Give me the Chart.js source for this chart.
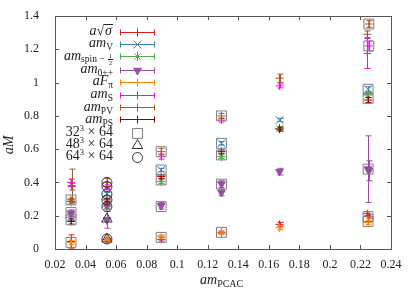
<!DOCTYPE html>
<html>
<head>
<meta charset="utf-8">
<script src="https://cdn.jsdelivr.net/npm/chart.js@4.4.0/dist/chart.umd.min.js"></script>
<style>
  html, body { margin: 0; padding: 0; background: #fff; }
  #wrap { position: relative; width: 415px; height: 292px; font-family: "Liberation Serif", "DejaVu Serif", serif; color: #222; }
  #wrap canvas { position: absolute; left: 0; top: 0; }
  .key { position: absolute; left: 0; width: 113px; text-align: right; font-size: 14px; line-height: 13px; height: 13px; white-space: nowrap; }
  .key sub { font-size: 9.5px; vertical-align: -2.5px; line-height: 0; font-style: normal; }
  .key sup { font-size: 8.5px; vertical-align: 5px; line-height: 0; }
  .fr { display: inline-block; position: relative; width: 5px; height: 0; margin-left: 1px; }
  .fr span { position: absolute; left: 0; width: 5px; font-size: 6px; line-height: 6px; text-align: center; }
  .fr .n { top: -9px; border-bottom: 0.7px solid #222; }
  .fr .d { top: -2px; }
  .ov { border-top: 1px solid #222; font-style: italic; padding: 0 1px; line-height: 12px; display: inline-block; }
  .ttl { position: absolute; font-size: 14px; white-space: nowrap; }
  .ttl sub { font-size: 10px; vertical-align: -3px; line-height: 0; }
</style>
</head>
<body>
<div id="wrap">
  <canvas id="chart" width="415" height="292"></canvas>
  <div id="keys"></div>
  <div class="ttl" style="left:0px;top:137px;transform:rotate(-90deg);"><i>aM</i></div>
  <div class="ttl" style="left:200px;top:272px;"><i>am</i><sub>PCAC</sub></div>
</div>
<script>
// each point: [am_PCAC, value, error]
const sqrtSigma = [[0.0305, 0.045, 0.04], [0.054, 0.058, 0.008], [0.0895, 0.058, 0.01], [0.129, 0.1, 0.008], [0.167, 0.148, 0.012], [0.2245, 0.212, 0.012], [0.2255, 0.195, 0.01]];
const mV = [[0.0305, 0.19, 0.02], [0.054, 0.33, 0.01], [0.0895, 0.475, 0.01], [0.129, 0.635, 0.01], [0.167, 0.775, 0.01], [0.225, 0.96, 0.015]];
const mSpinHalf = [[0.0305, 0.285, 0.012], [0.054, 0.255, 0.01], [0.0895, 0.405, 0.012], [0.129, 0.555, 0.012], [0.167, 0.725, 0.01], [0.225, 0.925, 0.015]];
const m0pp = [[0.0305, 0.215, 0.02], [0.054, 0.26, 0.02], [0.054, 0.175, 0.05], [0.0895, 0.26, 0.02], [0.129, 0.39, 0.02], [0.129, 0.34, 0.02], [0.167, 0.465, 0.02], [0.225, 0.48, 0.2], [0.2255, 0.47, 0.06]];
const fPi = [[0.0305, 0.04, 0.012], [0.054, 0.055, 0.005], [0.0895, 0.078, 0.006], [0.129, 0.095, 0.006], [0.167, 0.127, 0.012], [0.225, 0.16, 0.012]];
const mS = [[0.0305, 0.40, 0.02], [0.031, 0.375, 0.02], [0.054, 0.375, 0.01], [0.0895, 0.555, 0.015], [0.129, 0.775, 0.012], [0.167, 0.98, 0.012], [0.2255, 1.22, 0.03], [0.2245, 1.175, 0.09]];
const mPV = [[0.0305, 0.295, 0.01], [0.031, 0.38, 0.1], [0.054, 0.40, 0.025], [0.0895, 0.585, 0.02], [0.129, 0.80, 0.015], [0.167, 1.026, 0.025], [0.2255, 1.352, 0.02], [0.2245, 1.29, 0.02]];
const mPS = [[0.0305, 0.165, 0.015], [0.054, 0.295, 0.01], [0.0895, 0.435, 0.01], [0.129, 0.585, 0.01], [0.167, 0.72, 0.012], [0.225, 0.895, 0.015]];

// lattice volume markers: [am_PCAC, value]
const vol32 = [[0.0305, 0.295], [0.0305, 0.22], [0.0305, 0.175], [0.0305, 0.04], [0.0895, 0.585], [0.0895, 0.475], [0.0895, 0.415], [0.0895, 0.255], [0.0895, 0.07], [0.129, 0.80], [0.129, 0.635], [0.129, 0.565], [0.129, 0.39], [0.129, 0.10], [0.2255, 1.352], [0.2255, 1.22], [0.225, 0.96], [0.225, 0.905], [0.225, 0.48], [0.225, 0.195], [0.225, 0.165]];
const vol48 = [[0.054, 0.18], [0.054, 0.06]];
const vol64 = [[0.054, 0.40], [0.054, 0.375], [0.054, 0.33], [0.054, 0.295], [0.054, 0.255], [0.054, 0.06]];

const xTicks = ['0.02', '0.04', '0.06', '0.08', '0.1', '0.12', '0.14', '0.16', '0.18', '0.2', '0.22', '0.24'];
const yTicks = ['0', '0.2', '0.4', '0.6', '0.8', '1', '1.2', '1.4'];

const keyLabels = [
  '<i>a</i>√<span class="ov">σ</span>',
  '<i>am</i><sub>V</sub>',
  '<i>am</i><sub>spin − <span class="fr"><span class="n">1</span><span class="d">2</span></span></sub>',
  '<i>am</i><sub>0++</sub>',
  '<i>aF</i><sub>π</sub>',
  '<i>am</i><sub>S</sub>',
  '<i>am</i><sub>PV</sub>',
  '<i>am</i><sub>PS</sub>',
  '32<sup>3</sup> × 64',
  '48<sup>3</sup> × 64',
  '64<sup>3</sup> × 64'
];

const series = [
  { pts: sqrtSigma, color: '#e41a1c', style: 'cross', r: 4 },
  { pts: mV, color: '#377eb8', style: 'crossRot', r: 5.5 },
  { pts: mSpinHalf, color: '#4daf4a', style: 'star', r: 4.5 },
  { pts: m0pp, color: '#984ea3', style: 'triangle', r: 4.5, fill: true, rot: 180 },
  { pts: fPi, color: '#ff7f00', style: 'cross', r: 4 },
  { pts: mS, color: '#ff00ff', style: 'cross', r: 4 },
  { pts: mPV, color: '#a65628', style: 'cross', r: 4 },
  { pts: mPS, color: '#990000', style: 'cross', r: 4 },
  { pts: vol32, color: '#808080', style: 'rect', r: 7, vol: true },
  { pts: vol48, color: '#333333', style: 'triangle', r: 6, vol: true },
  { pts: vol64, color: '#333333', style: 'circle', r: 5, vol: true }
];

// key row centres (px)
const KEY_ROWS = [31.5, 43.5, 56, 69.5, 81.5, 94.5, 107, 119, 132.5, 144.5, 156.5];

const datasets = series.map((s, i) => ({
  label: keyLabels[i],
  data: s.pts.map(p => ({ x: p[0], y: p[1] })),
  errors: s.vol ? null : s.pts.map(p => p[2]),
  pointStyle: s.style,
  pointRadius: s.r,
  pointRotation: s.rot || 0,
  borderColor: s.color,
  backgroundColor: s.fill ? s.color : 'rgba(0,0,0,0)',
  pointBorderWidth: 1,
  order: series.length - i
}));

const errorBars = {
  id: 'errorBars',
  beforeDatasetDraw(chart, args) {
    const ds = chart.data.datasets[args.index];
    if (!ds.errors) return;
    const { ctx, scales: { x, y } } = chart;
    ctx.save();
    ctx.strokeStyle = ds.borderColor;
    ctx.lineWidth = 1;
    ds.data.forEach((p, i) => {
      const e = ds.errors[i];
      const px = Math.round(x.getPixelForValue(p.x)) + 0.5;
      const y1 = y.getPixelForValue(p.y - e), y2 = y.getPixelForValue(p.y + e);
      ctx.beginPath();
      ctx.moveTo(px, y1); ctx.lineTo(px, y2);
      ctx.moveTo(px - 3, y1); ctx.lineTo(px + 3, y1);
      ctx.moveTo(px - 3, y2); ctx.lineTo(px + 3, y2);
      ctx.stroke();
    });
    ctx.restore();
  }
};

// gnuplot style frame: border all round, ticks pointing inwards on every side
const frame = {
  id: 'frame',
  afterDatasetsDraw(chart) {
    const { ctx, chartArea: a, scales: { x, y } } = chart;
    ctx.save();
    ctx.strokeStyle = '#555';
    ctx.lineWidth = 1;
    ctx.beginPath();
    x.ticks.forEach(t => {
      const px = Math.round(x.getPixelForValue(t.value)) + 0.5;
      ctx.moveTo(px, a.bottom); ctx.lineTo(px, a.bottom - 4);
      ctx.moveTo(px, a.top); ctx.lineTo(px, a.top + 4);
    });
    y.ticks.forEach(t => {
      const py = Math.round(y.getPixelForValue(t.value)) + 0.5;
      ctx.moveTo(a.left, py); ctx.lineTo(a.left + 4, py);
      ctx.moveTo(a.right, py); ctx.lineTo(a.right - 4, py);
    });
    ctx.stroke();
    ctx.strokeRect(Math.round(a.left) + 0.5, Math.round(a.top) + 0.5, Math.round(a.right - a.left), Math.round(a.bottom - a.top));
    ctx.restore();
  }
};

// key samples: errorbar line with caps and the marker
const keySamples = {
  id: 'keySamples',
  afterDraw(chart) {
    const ctx = chart.ctx;
    const x0 = 120, x1 = 155, xm = 137.5;
    chart.data.datasets.forEach((ds, i) => {
      const yy = Math.round(KEY_ROWS[i]) + 0.5;
      ctx.save();
      ctx.strokeStyle = ds.borderColor;
      ctx.fillStyle = ds.backgroundColor;
      ctx.lineWidth = 1;
      if (ds.errors) {
        ctx.beginPath();
        ctx.moveTo(x0, yy); ctx.lineTo(x1, yy);
        ctx.moveTo(x0 + 0.5, yy - 3); ctx.lineTo(x0 + 0.5, yy + 3);
        ctx.moveTo(x1 - 0.5, yy - 3); ctx.lineTo(x1 - 0.5, yy + 3);
        ctx.stroke();
      }
      Chart.helpers.drawPoint(ctx, {
        pointStyle: ds.pointStyle, radius: ds.pointRadius,
        rotation: ds.pointRotation, borderWidth: 1
      }, xm, yy);
      ctx.restore();
    });
  }
};

document.getElementById('keys').innerHTML = keyLabels.map((l, i) =>
  `<div class="key" style="top:${KEY_ROWS[i] - 7.5}px">${l}</div>`).join('');

const tickFont = { family: '"Liberation Serif", "DejaVu Serif", serif', size: 12 };

new Chart(document.getElementById('chart'), {
  type: 'scatter',
  data: { datasets },
  options: {
    responsive: false,
    animation: false,
    events: [],
    layout: { padding: { top: 16, right: 24, left: 0, bottom: 0 } },
    plugins: { legend: { display: false }, tooltip: { enabled: false } },
    scales: {
      x: {
        type: 'linear', min: 0.02, max: 0.24,
        grid: { display: false }, border: { display: false },
        ticks: {
          stepSize: 0.02, color: '#222', font: tickFont, padding: 1, maxRotation: 0,
          callback: v => xTicks.find(t => Math.abs(+t - v) < 1e-9) ?? ''
        },
        afterFit: s => { s.height = 43; }
      },
      y: {
        type: 'linear', min: 0, max: 1.4,
        grid: { display: false }, border: { display: false },
        ticks: {
          stepSize: 0.2, color: '#222', font: tickFont, padding: 8,
          callback: v => yTicks.find(t => Math.abs(+t - v) < 1e-9) ?? ''
        },
        afterFit: s => { s.width = 55; }
      }
    }
  },
  plugins: [errorBars, frame, keySamples]
});
</script>
</body>
</html>
